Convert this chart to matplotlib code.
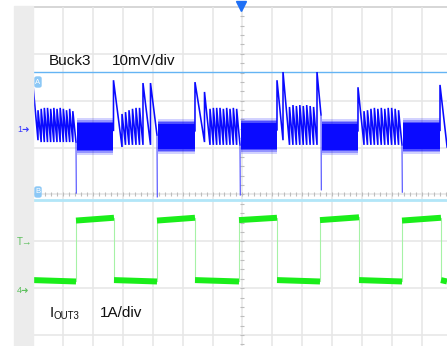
import matplotlib
matplotlib.use("Agg")
import matplotlib.pyplot as plt
from matplotlib.patches import Rectangle, FancyBboxPatch
import numpy as np

W, H, DPI = 447, 346, 100
FONT = ["Liberation Sans", "DejaVu Sans"]

# Screen geometry
X_DIV = 29.92          # px per horizontal division
Y_DIV = 46.86          # px per vertical division
GRID_LEFT_PX = 33      # first vertical graticule line
GRID_BOTTOM_PX = 335   # lowest horizontal graticule line
GRID_TOP_PX = 7

# ---- Channel 1: Buck3 output ripple (mV), 10 mV/div ----
CH1_POS = 4.417
CH1_SCALE = 10.0
CURSOR_A_MV = 11.95
CURSOR_B_MV = -15.36

# dense switching ripple while the load is high (time in div)
burst_start = [1.437, 4.144, 6.918, 9.626, 12.333]
burst_end = [2.674, 5.414, 8.155, 10.862, 13.603]
burst_top = [1.0, 0.9, 1.1, 0.9, 1.0]
burst_bottom = [-4.6, -4.5, -4.4, -4.6, -4.5]
burst_spike = [-13.9, -14.7, -14.3, -13.2, -13.7]

# large PFM pulses: start time, end time, peak, value reached at the end
tall_t = [-0.05, 2.690, 3.676, 3.927, 5.414, 5.732, 8.155, 8.356, 9.492, 10.862, 13.603]
tall_end = [0.167, 2.975, 3.927, 4.144, 5.732, 5.916, 8.356, 8.573, 9.626, 11.063, 13.84]
tall_peak = [12.6, 10.2, 9.6, 9.6, 9.8, 7.7, 10.2, 11.95, 11.95, 8.7, 9.2]
tall_valley = [-2.6, -4.05, -3.6, -1.5, -3.0, -3.6, -2.6, -3.6, 2.8, -3.6, -4.05]

# runs of small PFM teeth: run span, common valley, peak of each tooth
run_start = [0.167, 2.975, 5.916, 8.573, 11.063]
run_end = [1.437, 3.676, 6.918, 9.492, 12.333]
run_valley = [-3.0, -3.6, -3.6, -3.6, -3.6]
run_peaks = [
    [3.8, 4.1, 4.3, 4.3, 4.1, 4.3, 4.1, 4.3, 4.1, 3.8, 4.1, 3.6],
    [3.0, 3.4, 3.8, 4.1, 4.3, 4.3],
    [4.1, 4.3, 4.3, 4.3, 4.1, 4.3, 4.1, 4.3, 4.1],
    [4.5, 4.9, 4.7, 4.9, 4.7, 4.9, 4.7, 4.5],
    [3.6, 3.8, 4.1, 4.3, 4.1, 4.3, 4.1, 4.3, 4.3, 4.1, 3.8],
]

# ---- Channel 4: IOUT3 load current (A), 1 A/div ----
CH4_POS = 0.982
iout_rise = [1.437, 4.144, 6.885, 9.592, 12.333]
iout_fall = [2.707, 5.414, 8.155, 10.896, 13.636]
iout_high_start = [1.46, 1.46, 1.47, 1.47, 1.46]
iout_high_end = [1.52, 1.52, 1.52, 1.53, 1.52]
iout_low_start = [0.19, 0.19, 0.19, 0.19, 0.19, 0.19]
iout_low_end = [0.16, 0.16, 0.16, 0.16, 0.16, 0.16]

BLUE = "#0a0aff"
GREEN = "#1aee1a"


def ch1(mv):
    return CH1_POS + np.asarray(mv, dtype=float) / CH1_SCALE


def ch4(amp):
    return CH4_POS + np.asarray(amp, dtype=float)


def fpos(x, y):
    return x / W, 1 - y / H


fig = plt.figure(figsize=(W / DPI, H / DPI), dpi=DPI)
fig.patch.set_facecolor("white")

# grey side panel holding the channel markers
fig.patches.append(Rectangle((14 / W, 0), (GRID_LEFT_PX - 14) / W, 1 - 6 / H,
                             transform=fig.transFigure, color="#ececec", zorder=0))

ax = fig.add_axes([GRID_LEFT_PX / W, 0, (W - GRID_LEFT_PX) / W, (H - GRID_TOP_PX) / H])
ax.set_xlim(0, (W - GRID_LEFT_PX) / X_DIV)
ax.set_ylim(-(H - GRID_BOTTOM_PX) / Y_DIV, (GRID_BOTTOM_PX - GRID_TOP_PX) / Y_DIV)
ax.set_axis_off()

# graticule
for v in range(0, 7):
    ax.axhline(v, color="#e6e6e6", lw=1.1, zorder=1)
ax.axhline(7, color="#d6d6d6", lw=1.4, zorder=1, clip_on=False)
for t in range(0, 14):
    ax.axvline(t, color="#e6e6e6", lw=1.1, zorder=1)

# minor ticks on the centre axes
xt = np.arange(0, 14, 0.2)
ax.plot(xt, np.full_like(xt, 3.0), ls="none", marker="|", ms=3.5, mew=0.8,
        color="#bdbdbd", zorder=1)
yt = np.arange(-0.2, 7, 0.2)
ax.plot(np.full_like(yt, 7.0), yt, ls="none", marker="_", ms=3.5, mew=0.8,
        color="#bdbdbd", zorder=1)

# cursors
ax.axhline(ch1(CURSOR_A_MV), color="#64b4f4", lw=1.0, zorder=2)
ax.axhline(ch1(CURSOR_B_MV), color="#b2e6f8", lw=2.0, zorder=2)

# ---- channel 1 trace ----
teeth = []
for t0, t1, p, v in zip(tall_t, tall_end, tall_peak, tall_valley):
    teeth.append((t0, t1, p, v))
for s, e, v, peaks in zip(run_start, run_end, run_valley, run_peaks):
    edges = np.linspace(s, e, len(peaks) + 1)
    for k, p in enumerate(peaks):
        teeth.append((edges[k], edges[k + 1], p, v))
teeth.sort(key=lambda r: r[0])

# split into segments between bursts
segments = []
cur = []
for tooth in teeth:
    if cur and abs(tooth[0] - cur[-1][1]) > 0.02:
        segments.append(cur)
        cur = []
    cur.append(tooth)
segments.append(cur)

for seg in segments:
    xs, ys = [], []
    first = seg[0]
    # start from inside the preceding burst band when there is one
    prev_b = [i for i, e in enumerate(burst_end) if abs(e - first[0]) < 0.05]
    if prev_b:
        xs.append(first[0])
        ys.append(burst_top[prev_b[0]] - 1.5)
    for t0, t1, p, v in seg:
        xs += [t0, t1]
        ys += [p, v]
    ax.plot(xs, ch1(ys), color=BLUE, lw=1.15, zorder=4, solid_joinstyle="miter")
    # drop into the next burst
    nxt = [i for i, s in enumerate(burst_start) if abs(s - seg[-1][1]) < 0.05]
    if nxt:
        i = nxt[0]
        ax.plot([seg[-1][1], burst_start[i] + 0.01],
                ch1([seg[-1][3], burst_spike[i]]), color="#4a4aff", lw=0.8, zorder=4)

# bursts: solid core with a soft fringe of the switching noise
for s, e, top, bot in zip(burst_start, burst_end, burst_top, burst_bottom):
    tt = np.array([s + 0.02, e])
    for grow, alpha in ((1.1, 0.18), (0.7, 0.3), (0.35, 0.5)):
        ax.fill_between(tt, ch1([bot - grow] * 2), ch1([top + grow] * 2),
                        color=BLUE, alpha=alpha, lw=0, zorder=3)
    ax.fill_between(tt, ch1([bot, bot]), ch1([top, top]), color=BLUE, lw=0, zorder=3)

# ---- channel 4 trace ----
for r, f, a0, a1 in zip(iout_rise, iout_fall, iout_high_start, iout_high_end):
    ax.plot([r, f], ch4([a0, a1]), color=GREEN, lw=4.3, solid_capstyle="butt", zorder=4)
low_from = [0.0] + iout_fall
low_to = iout_rise + [(W - GRID_LEFT_PX) / X_DIV]
for s, e, a0, a1 in zip(low_from, low_to, iout_low_start, iout_low_end):
    ax.plot([s, e], ch4([a0, a1]), color=GREEN, lw=4.3, solid_capstyle="butt", zorder=4)
for k, (r, f) in enumerate(zip(iout_rise, iout_fall)):
    ax.plot([r, r], ch4([iout_low_end[k], iout_high_start[k]]), color="#a6f2a6", lw=0.8, zorder=3)
    ax.plot([f, f], ch4([iout_high_end[k], iout_low_start[k + 1]]), color="#a6f2a6", lw=0.8, zorder=3)

# trigger position marker
ax.plot([6.95], [7.03], marker="v", ms=6.5, color="#1e6ff5", clip_on=False, zorder=6)

# cursor tags
for label, ytop in (("A", 77), ("B", 187)):
    x0, y0 = fpos(35, ytop + 10)
    fig.patches.append(FancyBboxPatch((x0, y0), 6 / W, 10 / H,
                                      boxstyle="round,pad=0,rounding_size=0.004",
                                      transform=fig.transFigure, color="#8cc8f6", zorder=7))
    fig.text(*fpos(38, ytop + 5), label, color="white", fontsize=5.5, family=FONT,
             ha="center", va="center", zorder=8)

# channel markers on the side panel
fig.text(*fpos(17, 132), "1\u279c", color="#3a3aff", fontsize=6.5, family=FONT)
fig.text(*fpos(17, 245), "T\u2192", color="#5cbf5c", fontsize=7, family=FONT)
fig.text(*fpos(17, 293), "4\u279c", color="#5cbf5c", fontsize=6.5, family=FONT)

# channel captions
fig.text(*fpos(49, 65), "Buck3", fontsize=11, family=FONT, color="#111111")
fig.text(*fpos(112, 65), "10mV/div", fontsize=11, family=FONT, color="#111111")
fig.text(*fpos(50, 317), "I", fontsize=11, family=FONT, color="#111111")
fig.text(*fpos(54, 319), "OUT3", fontsize=7, family=FONT, color="#111111")
fig.text(*fpos(100, 317), "1A/div", fontsize=11, family=FONT, color="#111111")

fig.savefig("out.png", dpi=DPI)
